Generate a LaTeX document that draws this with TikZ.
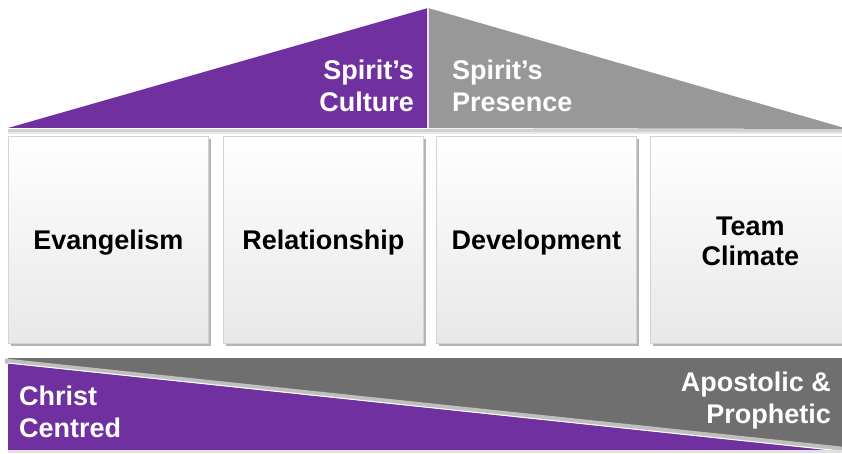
\documentclass[tikz,border=0pt]{standalone}
\usepackage{fontspec}
\setmainfont{Liberation Sans}
\usetikzlibrary{calc}
\definecolor{housepurple}{HTML}{7030A0}
\definecolor{roofgray}{HTML}{989898}
\definecolor{basegray}{HTML}{6F6F6F}
\definecolor{pillarline}{HTML}{D4D4D4}
\definecolor{pillarshadow}{HTML}{B4B4B4}
\begin{document}
\begin{tikzpicture}[x=1pt,y=-1pt,
  pillar/.style={draw=pillarline, line width=0.6pt, top color=white, bottom color=black!9,
    minimum width=200pt, minimum height=207pt, anchor=north west, inner sep=0pt},
  pillartext/.style={text width=196pt, align=center, inner sep=0pt,
    font=\fontsize{27}{30}\selectfont\bfseries, text=black},
  pillarshade/.style={fill=pillarshadow, minimum width=200pt, minimum height=207pt,
    anchor=north west, inner sep=0pt},
  whitelabel/.style={text=white, font=\fontsize{27}{32}\selectfont\bfseries, inner sep=0pt}
]
\useasboundingbox (0,0) rectangle (842,454);
\fill[white] (0,0) rectangle (842,454);

% roof: soft shadow under the eaves
\fill[black!18] (8,129) -- (846,129) -- (846,132) -- (8,132) -- cycle;
\fill[black!9] (8,132) -- (846,132) -- (846,134) -- (8,134) -- cycle;
% roof halves
\coordinate (apex) at (428,8);
\coordinate (eaveL) at (8,128);
\coordinate (eaveR) at (848,129);
\coordinate (ridgeB) at (428,128);
\fill[housepurple] (eaveL) -- (apex) -- (ridgeB) -- cycle;
\fill[roofgray] (apex) -- (eaveR) -- (ridgeB) -- cycle;
\draw[white!85!housepurple, line width=1.2pt] (apex) -- (ridgeB);

% multi-line labels are placed by the baseline of their last line
\node[whitelabel, anchor=base east, align=right] (culture) at (414,112)
  {Spirit's\\Culture};
\node[whitelabel, anchor=base west, align=left] (presence) at (452,112)
  {Spirit's\\Presence};

% pillars with drop shadows
\foreach \x/\nm in {8/a,223/b,436/c,650/d}{
  \node[pillarshade] (s\nm) at (\x+3,136+3) {};
}
\node[pillar] (evangelism) at (8,136) {};
\node[pillar] (relationship) at (223,136) {};
\node[pillar] (development) at (436,136) {};
\node[pillar] (climate) at (650,136) {};

% pillar captions (fixed-width boxes sit on the baseline of their first line)
\node[pillartext, anchor=base] (evangelismtext) at ($(evangelism.center)+(0,10)$) {Evangelism};
\node[pillartext, anchor=base] (relationshiptext) at ($(relationship.center)+(0,10)$) {Relationship};
\node[pillartext, anchor=base] (developmenttext) at ($(development.center)+(0,10)$) {Development};
\node[pillartext, anchor=base] (climatetext) at ($(climate.center)+(0,-4.5)$) {Team\\Climate};

% foundation band
\fill[basegray] (8,358) rectangle (846,449);
\fill[black!12] (8,449) rectangle (846,453);
\begin{scope}
  \clip (0,340) rectangle (846,449);
  \fill[black!25] (5,358.5) -- (846,447) -- (846,452) -- (5,363.5) -- cycle;
  \fill[housepurple] (8,363.5) -- (846,452) -- (846,460) -- (8,460) -- cycle;
  \draw[white, line width=1pt] (8,363) -- (846,451.5);
\end{scope}

\node[whitelabel, anchor=base west, align=left] (christ) at (19,437)
  {Christ\\Centred};
\node[whitelabel, anchor=base east, align=right] (apostolic) at (831,423)
  {Apostolic \&\\Prophetic};
\end{tikzpicture}
\end{document}
